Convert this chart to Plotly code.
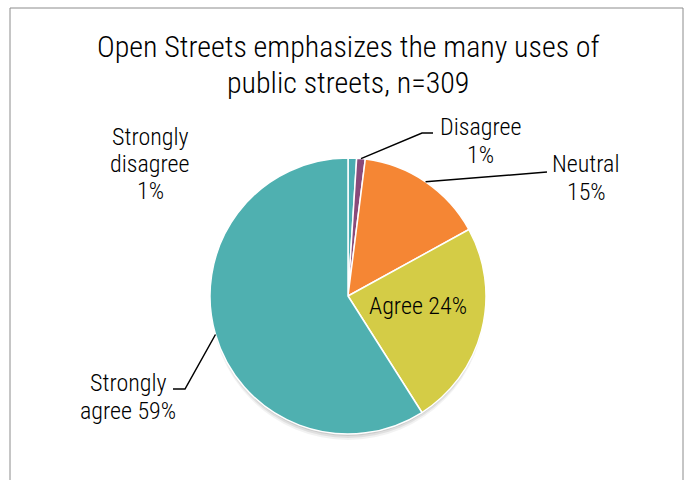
import math
import plotly.graph_objects as go

# Survey responses (percent of respondents, n=309)
categories = ["Strongly disagree", "Disagree", "Neutral", "Agree", "Strongly agree"]
percents = [1, 1, 15, 24, 59]
colors = ["#4bacb1", "#8a4a7a", "#f58634", "#d4cc46", "#4fb0b0"]
title_lines = ["Open Streets emphasizes the many uses of", "public streets, n=309"]

W, H = 689, 480
FONT = "Roboto Condensed, Liberation Sans Narrow, Arial Narrow, sans-serif"

# pie placement in pixels
cx, cy, R = 348, 296, 138


def px(x):
    return x / W


def py(y):
    return 1 - y / H


fig = go.Figure()
fig.add_trace(go.Pie(
    labels=categories,
    values=percents,
    sort=False,
    direction="clockwise",
    rotation=0,
    marker=dict(colors=colors, line=dict(color="white", width=1.5)),
    textinfo="none",
    hoverinfo="label+percent",
    showlegend=False,
    domain=dict(x=[px(cx - R), px(cx + R)], y=[py(cy + R), py(cy - R)]),
))


def edge_point(idx):
    """Point on the pie rim at the middle angle of slice idx."""
    total = sum(percents)
    start = sum(percents[:idx]) / total * 360
    mid = math.radians(start + percents[idx] / total * 360 / 2)
    return cx + R * math.sin(mid), cy - R * math.cos(mid)


shapes = []
# outer chart border
shapes.append(dict(type="rect", xref="paper", yref="paper",
                   x0=px(10), x1=px(683), y0=py(490), y1=py(8),
                   line=dict(color="#8c8c8c", width=1), fillcolor="rgba(0,0,0,0)"))
# soft shadow under the pie
for off, a in [(6, 0.05), (4, 0.07), (2, 0.09)]:
    shapes.append(dict(type="circle", xref="paper", yref="paper", layer="below",
                       x0=px(cx - R + 1), x1=px(cx + R - 1),
                       y0=py(cy + R + off), y1=py(cy - R + off),
                       line=dict(width=0), fillcolor=f"rgba(0,0,0,{a})"))


def leader(points):
    path = "M " + " L ".join(f"{px(x)},{py(y)}" for x, y in points)
    shapes.append(dict(type="path", xref="paper", yref="paper", path=path,
                       line=dict(color="black", width=1.5)))


x1, y1 = edge_point(1)
leader([(x1, y1), (422, 133), (433, 133)])
x2, y2 = edge_point(2)
leader([(x2, y2), (547, 172)])
x4, y4 = edge_point(4)
leader([(x4, y4), (185, 389), (173, 389)])

ann = []


def text_block(lines, x, y0, step, size):
    """Stack lines of text centred on x, first line centred at y0."""
    for i, line in enumerate(lines):
        ann.append(dict(text=line, x=px(x), y=py(y0 + i * step), xref="paper", yref="paper",
                        showarrow=False, xanchor="center", yanchor="middle",
                        font=dict(family=FONT, size=size, color="black", weight=300)))


text_block(title_lines, 348, 47, 35, 30)
text_block(["Strongly", "disagree", f"{percents[0]}%"], 150, 137, 27, 24)
text_block(["Disagree", f"{percents[1]}%"], 481, 127, 28, 24)
text_block(["Neutral", f"{percents[2]}%"], 586, 164, 28, 24)
text_block([f"{categories[3]} {percents[3]}%"], 418, 306, 28, 24)
text_block(["Strongly", f"agree {percents[4]}%"], 128, 383, 28, 24)

fig.update_layout(
    width=W, height=H,
    margin=dict(l=0, r=0, t=0, b=0),
    paper_bgcolor="white",
    plot_bgcolor="white",
    shapes=shapes,
    annotations=ann,
)

fig.write_html("out.html")
